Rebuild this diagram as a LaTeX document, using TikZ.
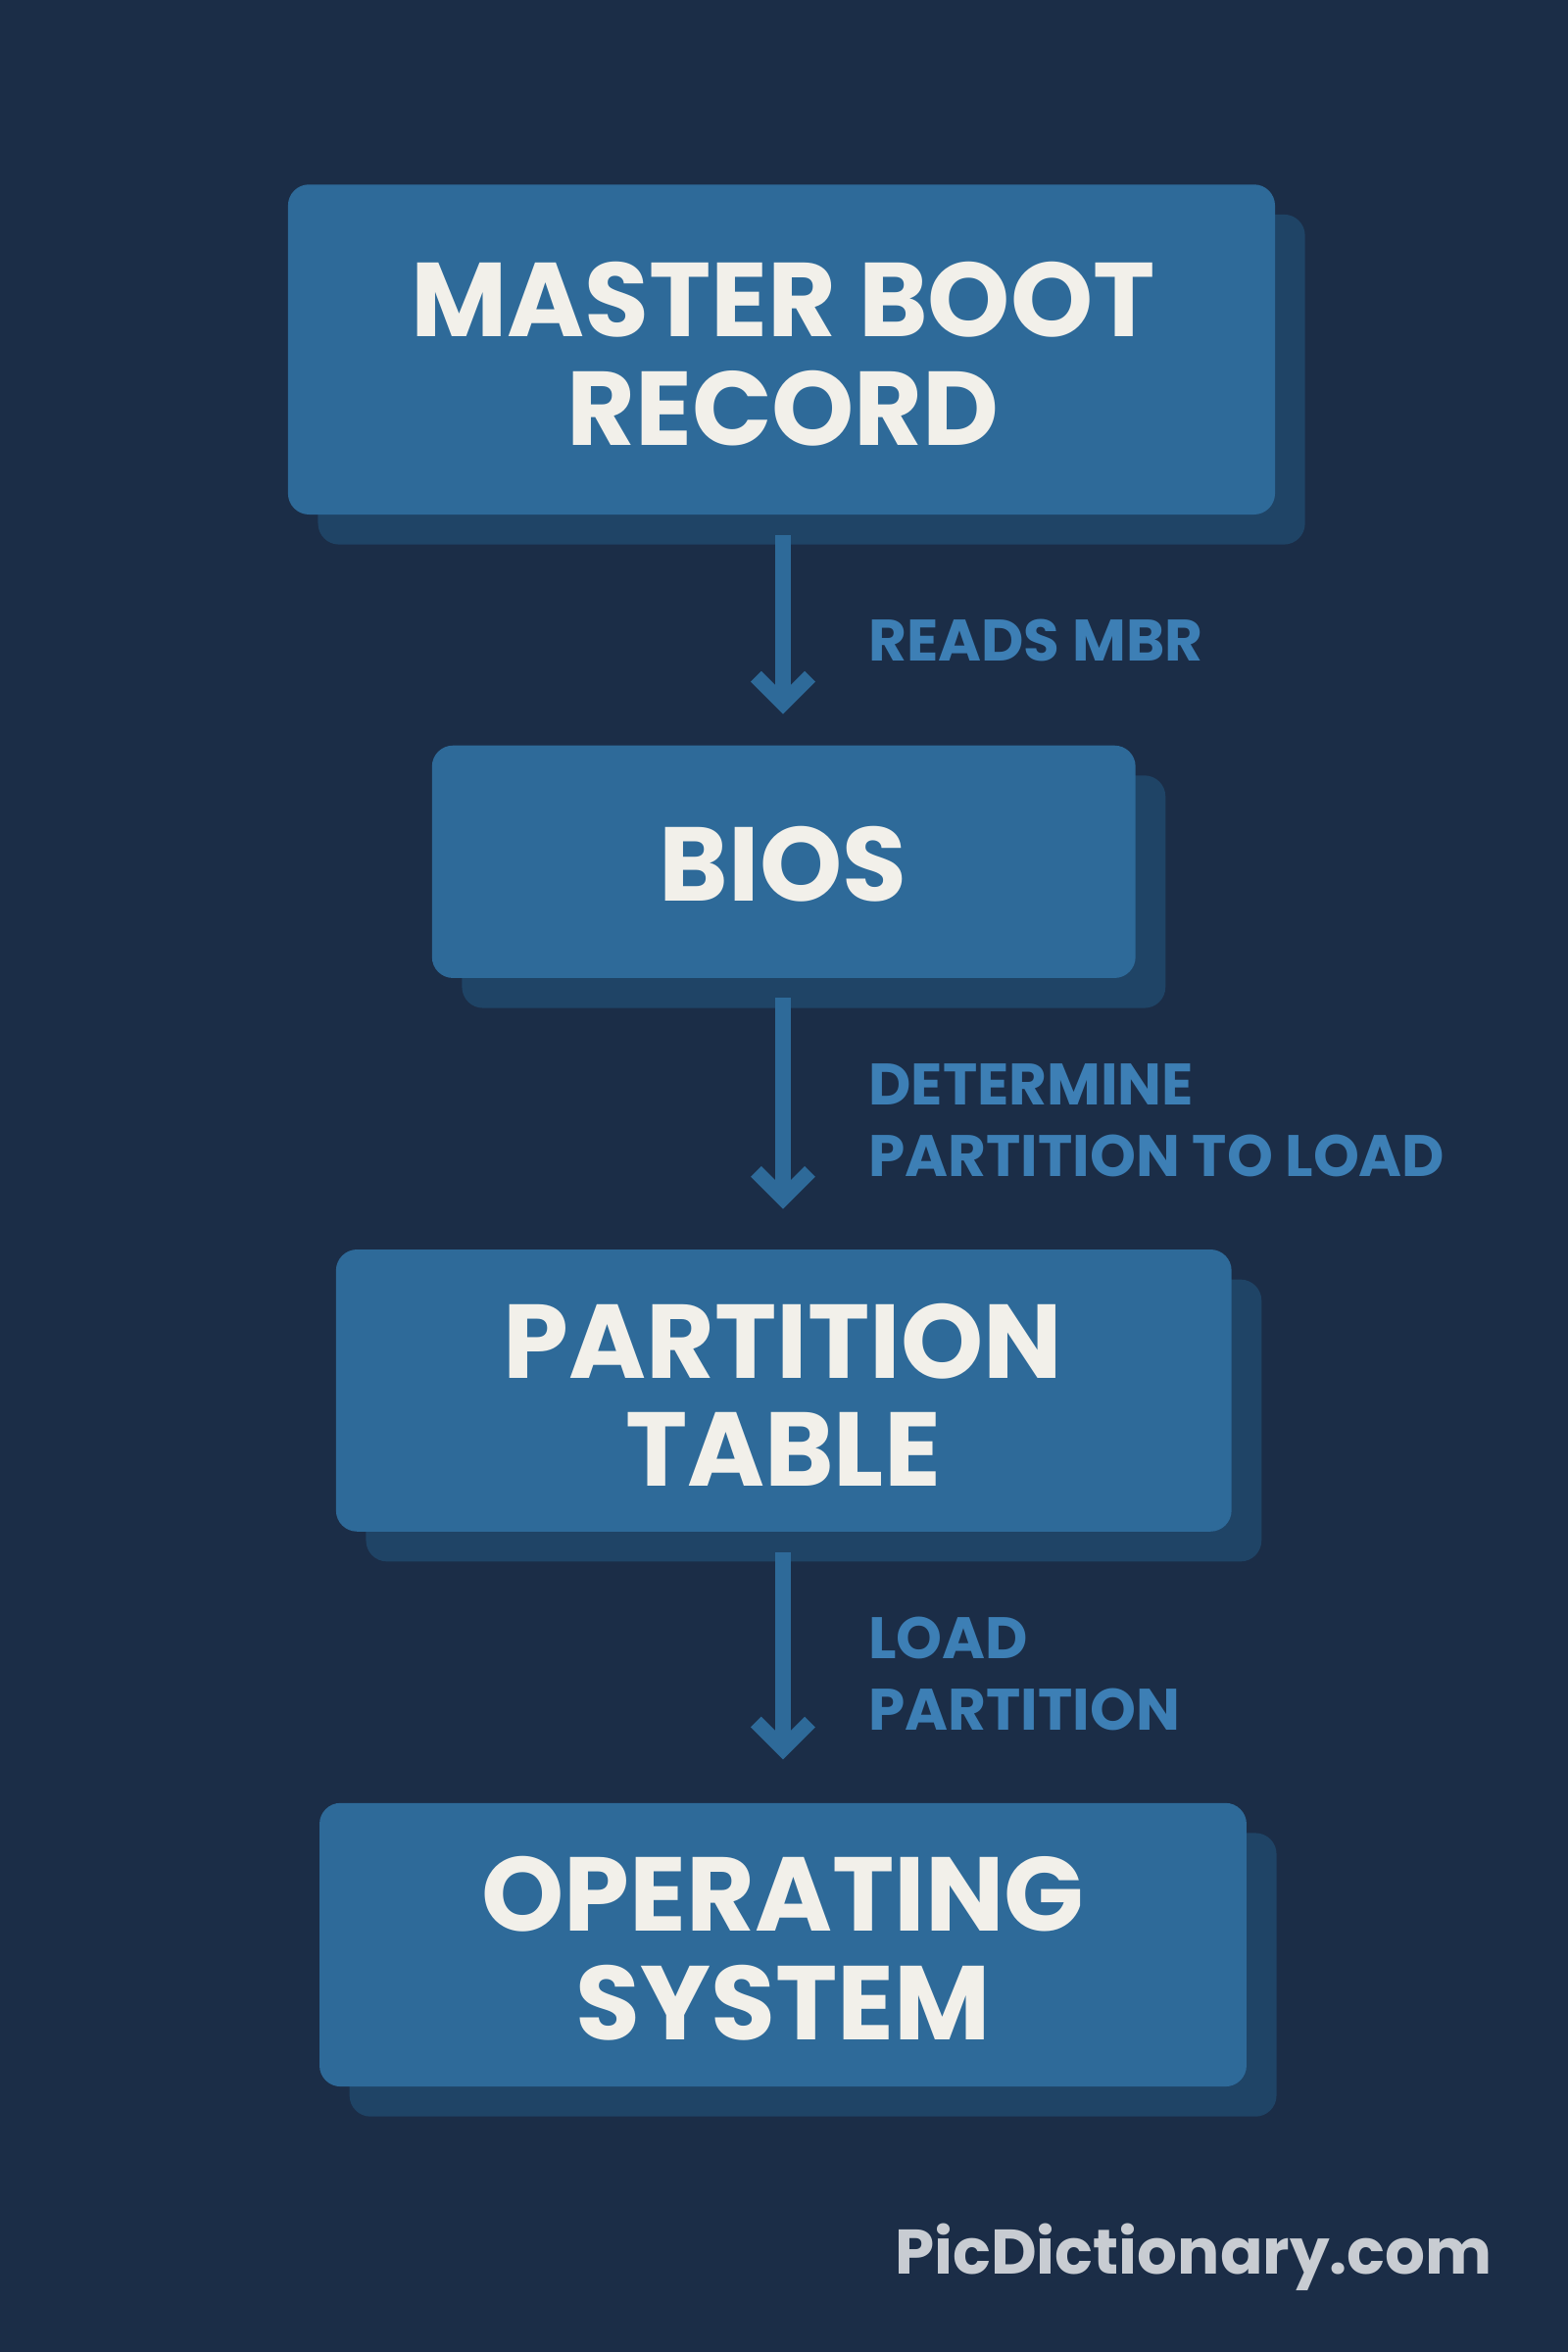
\documentclass[tikz,border=0pt]{standalone}
\usepackage{fontspec}
\setmainfont{Poppins}
\usetikzlibrary{arrows.meta}
\definecolor{bg}{HTML}{1B2D47}
\definecolor{boxc}{HTML}{2E6A99}
\definecolor{shad}{HTML}{1F4466}
\definecolor{txt}{HTML}{F2F0EA}
\definecolor{lab}{HTML}{3D7FB5}
\definecolor{wm}{HTML}{C8CCD2}
\begin{document}
\begin{tikzpicture}[x=0.5pt,y=-0.5pt,
  boxstyle/.style={fill=boxc,rounded corners=7pt,draw=none},
  shadstyle/.style={fill=shad,rounded corners=7pt,draw=none},
  boxtext/.style={text=txt,font=\fontsize{35}{36}\selectfont\bfseries,align=center},
  labtext/.style={text=lab,font=\fontsize{19.5}{24}\selectfont\bfseries,align=left,anchor=west},
  flow/.style={draw=boxc,line width=5pt,-{Straight Barb[length=9pt,width=18pt,line width=5pt]}}]
\fill[bg] (0,0) rectangle (1045,1568);
\useasboundingbox (0,0) rectangle (1045,1568);
% shadows
\fill[shadstyle] (212,143) rectangle (870,363);
\fill[shadstyle] (308,517) rectangle (777,672);
\fill[shadstyle] (244,853) rectangle (841,1041);
\fill[shadstyle] (233,1222) rectangle (851,1411);
% boxes
\fill[boxstyle] (192,123) rectangle (850,343);
\fill[boxstyle] (288,497) rectangle (757,652);
\fill[boxstyle] (224,833) rectangle (821,1021);
\fill[boxstyle] (213,1202) rectangle (831,1391);
\node[boxtext] (mbr) at (522,236) {MASTER BOOT\\RECORD};
\node[boxtext] (bios) at (522,576) {BIOS};
\node[boxtext] (pt) at (522,930) {PARTITION\\TABLE};
\node[boxtext] (os) at (522,1299) {OPERATING\\SYSTEM};
\coordinate (a1s) at (522,357); \coordinate (a1e) at (522,476);
\coordinate (a2s) at (522,665); \coordinate (a2e) at (522,806);
\coordinate (a3s) at (522,1035); \coordinate (a3e) at (522,1173);
\draw[flow] (a1s) -- (a1e);
\draw[flow] (a2s) -- (a2e);
\draw[flow] (a3s) -- (a3e);
\node[labtext] (l1) at (572,427) {READS MBR};
\node[labtext] (l2) at (572,747) {DETERMINE\\PARTITION TO LOAD};
\node[labtext] (l3) at (572,1116) {LOAD\\PARTITION};
\node[text=wm,font=\fontsize{21}{24}\selectfont\bfseries,anchor=east] (wmk) at (1002,1505) {PicDictionary.com};
\end{tikzpicture}
\end{document}
